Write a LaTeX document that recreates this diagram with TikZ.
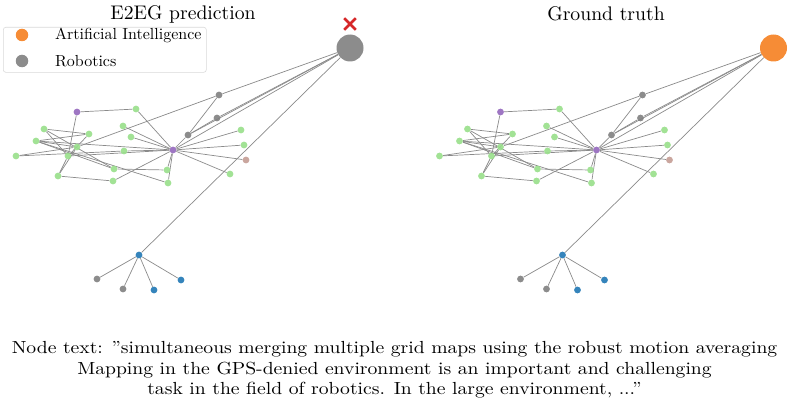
\documentclass[tikz,border=0pt]{standalone}
\usetikzlibrary{backgrounds,shapes.misc}
\definecolor{tgreen}{RGB}{152,223,138}
\definecolor{tpurple}{RGB}{148,103,189}
\definecolor{tgray}{RGB}{127,127,127}
\definecolor{tblue}{RGB}{31,119,180}
\definecolor{tbrown}{RGB}{196,156,148}
\definecolor{torange}{RGB}{245,128,32}
\definecolor{tred}{RGB}{214,39,40}
\definecolor{edgegray}{RGB}{138,138,138}
\tikzset{
  nd/.style={circle, inner sep=0pt, minimum size=6.8pt, fill=#1, fill opacity=0.9},
  ed/.style={draw=edgegray, line width=0.7pt},
  ttl/.style={inner sep=0pt, font=\fontsize{10}{12}\selectfont},
  lgt/.style={anchor=west, inner sep=0pt, font=\fontsize{10}{12}\selectfont},
}
\newcommand\graphnet[2]{%
  \node[nd=#2, minimum size=27pt] (#1big) at (350,48) {};
  \node[nd=tgray] (#1G1) at (219,95) {};
  \node[nd=tgray] (#1G2) at (217,118) {};
  \node[nd=tgray] (#1G3) at (188,135) {};
  \node[nd=tpurple] (#1H) at (173,150) {};
  \node[nd=tpurple] (#1P2) at (77,112) {};
  \node[nd=tgreen] (#1A) at (136,109) {};
  \node[nd=tgreen] (#1B) at (44,129) {};
  \node[nd=tgreen] (#1C) at (36,141) {};
  \node[nd=tgreen] (#1D) at (16,156) {};
  \node[nd=tgreen] (#1E) at (89,134) {};
  \node[nd=tgreen] (#1F) at (77,147) {};
  \node[nd=tgreen] (#1G) at (68,156) {};
  \node[nd=tgreen] (#1H2) at (123,126) {};
  \node[nd=tgreen] (#1I) at (131,137) {};
  \node[nd=tgreen] (#1J) at (124,151) {};
  \node[nd=tgreen] (#1K) at (58,176) {};
  \node[nd=tgreen] (#1L) at (114,169) {};
  \node[nd=tgreen] (#1M) at (113,181) {};
  \node[nd=tgreen] (#1N) at (167,170) {};
  \node[nd=tgreen] (#1O) at (168,183) {};
  \node[nd=tgreen] (#1P) at (241,130) {};
  \node[nd=tgreen] (#1Q) at (244,145) {};
  \node[nd=tgreen] (#1R) at (230,174) {};
  \node[nd=tbrown] (#1S) at (246,160) {};
  \node[nd=tblue] (#1BH) at (139,255) {};
  \node[nd=tgray] (#1g4) at (97,279) {};
  \node[nd=tgray] (#1g5) at (123,289) {};
  \node[nd=tblue] (#1b1) at (154,290) {};
  \node[nd=tblue] (#1b2) at (181,280) {};
  \begin{pgfonlayer}{background}
    \foreach \a/\b in {big/G1,big/G2,big/G3,big/H,big/BH,
      G1/F,G1/G3,G2/G3,
      H/A,H/G3,H/N,H/O,H/P,H/Q,H/S,H/R,H/M,H/J,H/I,H/H2,H/C,H/G,
      P2/A,P2/G,G/K,K/F,K/M,B/E,B/G,B/L,C/E,C/F,C/O,C/L,D/F,D/J,E/G,L/N,
      BH/g4,BH/g5,BH/b1,BH/b2}
      \draw[ed] (#1\a) -- (#1\b);
  \end{pgfonlayer}
}
\begin{document}
\begin{tikzpicture}[x=1pt,y=-1pt]
  \useasboundingbox (0,0) rectangle (789,404);
  % left graph
  \graphnet{l}{tgray}
  \node[cross out, draw=tred, line width=2.6pt, minimum size=9pt, inner sep=0pt] (xmark) at (350,24) {};
  % right graph
  \begin{scope}[xshift=423.5pt]
    \graphnet{r}{torange}
  \end{scope}
  % titles
  \node[ttl] (t1) at (183,14) {\scalebox{1.97}{E2EG prediction}};
  \node[ttl] (t2) at (606,14) {\scalebox{1.97}{Ground truth}};
  % legend
  \node[draw=black!15, rounded corners=2.5pt, line width=0.6pt, minimum width=203pt, minimum height=45pt, anchor=north west, inner sep=0pt] (legend) at (3,27) {};
  \node[nd=torange, minimum size=12.5pt] (lai) at (22,35) {};
  \node[lgt] (tai) at (55,35) {\scalebox{1.6}{Artificial Intelligence}};
  \node[nd=tgray, minimum size=12.5pt] (lro) at (22,61) {};
  \node[lgt] (tro) at (55,61) {\scalebox{1.6}{Robotics}};
  % caption
  \node[inner sep=0pt] (cap) at (394.5,370)
    {\scalebox{1.965}[1.75]{\fontsize{10}{11.7}\selectfont\begin{tabular}{@{}c@{}}
     Node text: ''simultaneous merging multiple grid maps using the robust motion averaging\\
     Mapping in the GPS-denied environment is an important and challenging\\
     task in the field of robotics. In the large environment, ...''\end{tabular}}};
\end{tikzpicture}
\end{document}
